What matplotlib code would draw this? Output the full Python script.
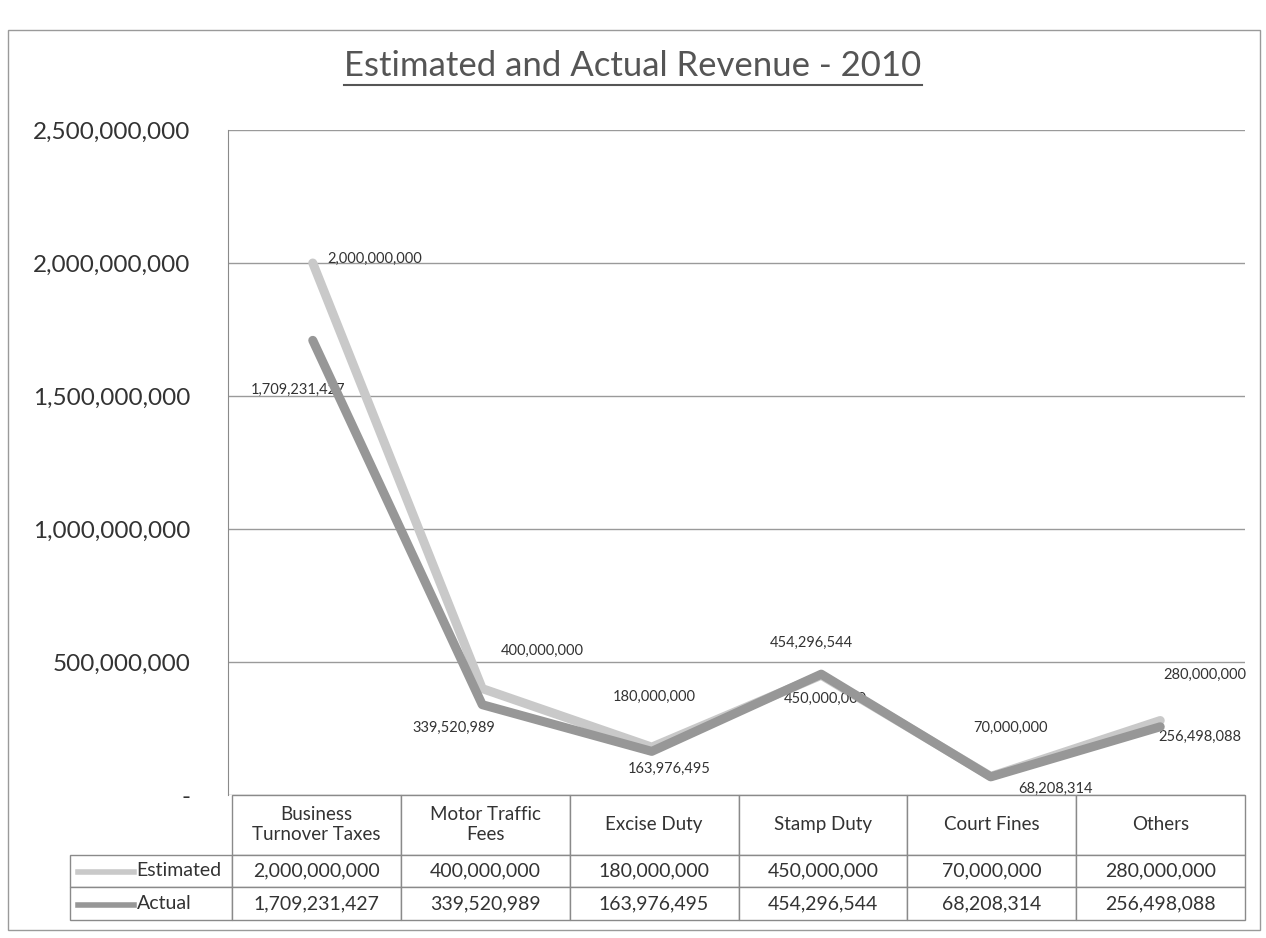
import matplotlib
matplotlib.use('Agg')
import matplotlib.pyplot as plt
from matplotlib.ticker import FuncFormatter, MultipleLocator
from matplotlib.patches import Rectangle
from matplotlib.lines import Line2D
from matplotlib.table import Table

plt.rcParams['font.family'] = ['Lato', 'DejaVu Sans']

# --- data ---
categories = ['Business\nTurnover Taxes', 'Motor Traffic\nFees', 'Excise Duty',
              'Stamp Duty', 'Court Fines', 'Others']
estimated = [2000000000, 400000000, 180000000, 450000000, 70000000, 280000000]
actual = [1709231427, 339520989, 163976495, 454296544, 68208314, 256498088]
series_names = ['Estimated', 'Actual']

# label offsets (pixels) for the data labels
est_offsets = [(15, 4), (60, 38), (2, 50), (4, -24), (20, 48), (45, 46)]
act_offsets = [(-15, -50), (-28, -23), (17, -18), (-10, 31), (65, -12), (40, -10)]

color_est = '#c9c9c9'
color_act = '#979797'
text_color = '#333333'

fig = plt.figure(figsize=(12.66, 9.38), dpi=100)
ax = fig.add_axes([228 / 1266, 143 / 938, 1017 / 1266, 665 / 938])

x = list(range(len(categories)))
ax.plot(x, estimated, color=color_est, linewidth=6.5, solid_capstyle='round', zorder=3)
ax.plot(x, actual, color=color_act, linewidth=6.5, solid_capstyle='round', zorder=4)

def fmt(v):
    return f'{v:,.0f}'

for xi, v, (dx, dy) in zip(x, estimated, est_offsets):
    ax.annotate(fmt(v), (xi, v), xytext=(dx * 0.72, dy * 0.72), textcoords='offset points',
                ha='left' if xi == 0 else 'center', va='center', fontsize=10.5, color=text_color)
for xi, v, (dx, dy) in zip(x, actual, act_offsets):
    ax.annotate(fmt(v), (xi, v), xytext=(dx * 0.72, dy * 0.72), textcoords='offset points',
                ha='center', va='center', fontsize=10.5, color=text_color)

ax.set_xlim(-0.5, 5.5)
ax.set_ylim(0, 2500000000)
ax.yaxis.set_major_locator(MultipleLocator(500000000))
ax.yaxis.set_major_formatter(FuncFormatter(lambda v, p: '-' if v == 0 else f'{v:,.0f}'))
ax.tick_params(axis='y', length=0, labelsize=17.5, labelcolor=text_color, pad=27)
ax.set_xticks([])
ax.grid(axis='y', color='#9a9a9a', linewidth=1)
for s in ['top', 'right', 'bottom']:
    ax.spines[s].set_visible(False)
ax.spines['left'].set_color('#8a8a8a')

# --- data table ---
table = Table(ax, bbox=[4 / 1017, -125 / 665, 1013 / 1017, 125 / 665])
table.auto_set_font_size(False)
for j, cat in enumerate(categories):
    table.add_cell(0, j, 169, 60, text=cat, loc='center')
for i, (name, vals) in enumerate(zip(series_names, [estimated, actual]), start=1):
    cell = table.add_cell(i, -1, 162, 33, text=name, loc='left')
    cell.PAD = 0.41
    for j, v in enumerate(vals):
        table.add_cell(i, j, 169, 33, text=fmt(v), loc='center')
for (r, c), cell in table.get_celld().items():
    cell.set_edgecolor('#8a8a8a')
    cell.set_linewidth(1)
    cell.get_text().set_color(text_color)
    cell.get_text().set_fontsize(13.5 if r == 0 else 14)
ax.add_table(table)

# legend keys in the row-label cells
for i, col in enumerate([color_est, color_act]):
    yk = -(60 + 33 * i + 16.5) / 665
    ax.add_line(Line2D([(78 - 228) / 1017, (134 - 228) / 1017], [yk, yk],
                       transform=ax.transAxes, color=col, linewidth=4, clip_on=False))

# --- title with underline ---
title = fig.text(0.5, 1 - 66 / 938, 'Estimated and Actual Revenue - 2010', ha='center',
                 va='center', fontsize=25, color='#555555')
fig.canvas.draw()
bb = title.get_window_extent().transformed(fig.transFigure.inverted())
fig.add_artist(Line2D([bb.x0, bb.x1], [bb.y0 - 0.003, bb.y0 - 0.003],
                      transform=fig.transFigure, color='#555555', linewidth=1.5))

# chart border
fig.add_artist(Rectangle((8 / 1266, 8 / 938), 1252 / 1266, 900 / 938, transform=fig.transFigure,
                         fill=False, edgecolor='#9a9a9a', linewidth=1))

fig.savefig('out.png', dpi=100)
